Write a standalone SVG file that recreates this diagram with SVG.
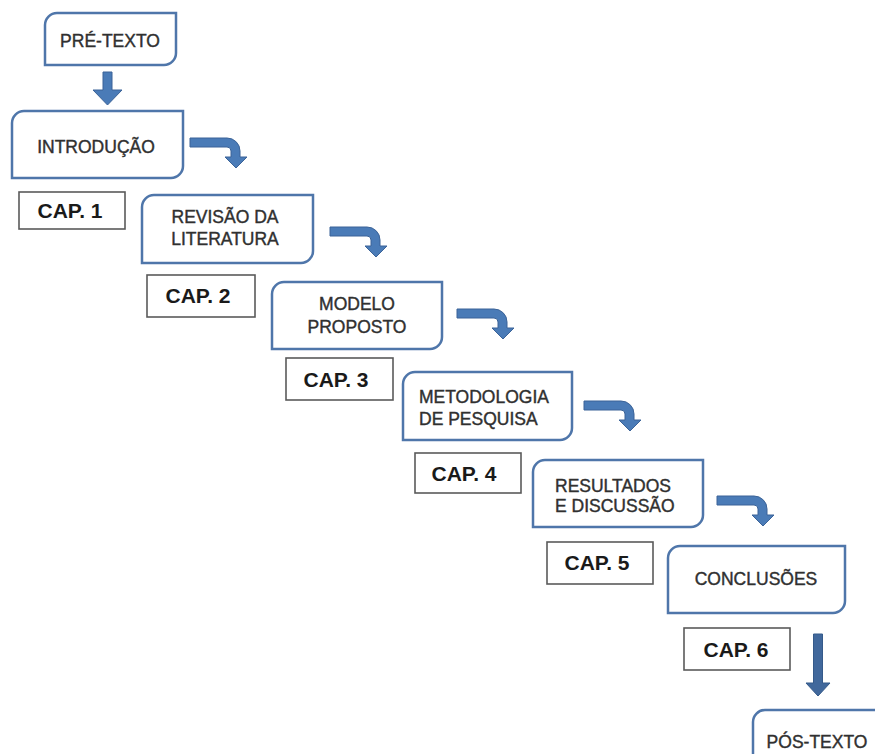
<svg xmlns="http://www.w3.org/2000/svg" width="875" height="754" viewBox="0 0 875 754">
  <style>
    .box { fill: #ffffff; stroke: #4f76aa; stroke-width: 2.5; }
    .cap { fill: #ffffff; stroke: #5a5a5a; stroke-width: 1.6; }
    .lbl { font-family: "Liberation Sans", Arial, sans-serif; font-size: 17.5px; fill: #303030; stroke: #303030; stroke-width: 0.4; }
    .mid { text-anchor: middle; }
    .cpt { font-family: "Liberation Sans", Arial, sans-serif; font-size: 21px; font-weight: bold; fill: #1a1a1a; text-anchor: middle; }
    .arr { fill: #4a7bb7; stroke: #3b6398; stroke-width: 1; }
  </style>
  <defs>
    <!-- bent arrow: horizontal shaft turning down into an arrowhead -->
    <path id="bend" d="M0,0 H37 A13,13 0 0 1 50,13 V19 H57 L46,30 L35,19 H41 V13 A4,4 0 0 0 37,9 H0 Z"/>
  </defs>
  <rect width="875" height="754" fill="#ffffff"/>

  <g id="connectors">
    <path class="arr" d="M103,72 H112 V90 H122 L107.5,105 L93,90 H103 Z"/>
    <use href="#bend" class="arr" transform="translate(190,138)"/>
    <use href="#bend" class="arr" transform="translate(330,227)"/>
    <use href="#bend" class="arr" transform="translate(457,309)"/>
    <use href="#bend" class="arr" transform="translate(584,401)"/>
    <use href="#bend" class="arr" transform="translate(717,496)"/>
    <path class="arr" d="M813.5,634 H822.5 V683 H830 L818,696 L806,683 H813.5 Z" style="fill:#41689c;stroke:#355a8a"/>
  </g>

  <g id="pre-texto">
    <path class="box" d="M45,25 A12,12 0 0 1 57,13 H176 V53 A12,12 0 0 1 164,65 H45 Z"/>
    <text class="lbl mid" x="110" y="47">PRÉ-TEXTO</text>
  </g>

  <g id="introducao">
    <path class="box" d="M12,123 A12,12 0 0 1 24,111 H183 V166 A12,12 0 0 1 171,178 H12 Z"/>
    <text class="lbl mid" x="96" y="153">INTRODUÇÃO</text>
  </g>
  <g id="cap1">
    <rect class="cap" x="19" y="192" width="106" height="37"/>
    <text class="cpt" x="70" y="218">CAP. 1</text>
  </g>

  <g id="revisao">
    <path class="box" d="M142,207 A12,12 0 0 1 154,195 H313 V251 A12,12 0 0 1 301,263 H142 Z"/>
    <text class="lbl mid" x="225" y="223">REVISÃO DA</text>
    <text class="lbl mid" x="225" y="245">LITERATURA</text>
  </g>
  <g id="cap2">
    <rect class="cap" x="147" y="275" width="108" height="42"/>
    <text class="cpt" x="198" y="303">CAP. 2</text>
  </g>

  <g id="modelo">
    <path class="box" d="M272,294 A12,12 0 0 1 284,282 H442 V337 A12,12 0 0 1 430,349 H272 Z"/>
    <text class="lbl mid" x="357" y="310">MODELO</text>
    <text class="lbl mid" x="357" y="333">PROPOSTO</text>
  </g>
  <g id="cap3">
    <rect class="cap" x="286" y="358" width="107" height="42"/>
    <text class="cpt" x="336" y="387">CAP. 3</text>
  </g>

  <g id="metodologia">
    <path class="box" d="M403,384 A12,12 0 0 1 415,372 H572 V428 A12,12 0 0 1 560,440 H403 Z"/>
    <text class="lbl" x="419" y="403">METODOLOGIA</text>
    <text class="lbl" x="419" y="425">DE PESQUISA</text>
  </g>
  <g id="cap4">
    <rect class="cap" x="415" y="453" width="106" height="40"/>
    <text class="cpt" x="464" y="481">CAP. 4</text>
  </g>

  <g id="resultados">
    <path class="box" d="M533,472 A12,12 0 0 1 545,460 H703 V515 A12,12 0 0 1 691,527 H533 Z"/>
    <text class="lbl" x="555" y="492">RESULTADOS</text>
    <text class="lbl" x="555" y="512">E DISCUSSÃO</text>
  </g>
  <g id="cap5">
    <rect class="cap" x="547" y="542" width="106" height="42"/>
    <text class="cpt" x="597" y="570">CAP. 5</text>
  </g>

  <g id="conclusoes">
    <path class="box" d="M668,558 A12,12 0 0 1 680,546 H845 V601 A12,12 0 0 1 833,613 H668 Z"/>
    <text class="lbl mid" x="756" y="585">CONCLUSÕES</text>
  </g>
  <g id="cap6">
    <rect class="cap" x="684" y="628" width="106" height="42"/>
    <text class="cpt" x="736" y="657">CAP. 6</text>
  </g>

  <g id="pos-texto">
    <path class="box" d="M753,772 V722 A12,12 0 0 1 765,710 H890"/>
    <text class="lbl mid" x="817" y="748">PÓS-TEXTO</text>
  </g>
</svg>
